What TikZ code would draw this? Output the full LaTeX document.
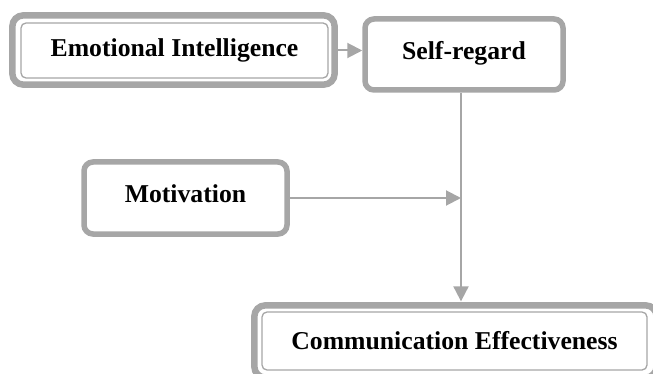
\documentclass[tikz,border=0pt]{standalone}
\usepackage{fontspec}
\setmainfont{Liberation Serif}
\usetikzlibrary{arrows.meta,positioning}

\definecolor{linegray}{HTML}{A6A6A6}

\tikzset{
  box/.style={draw=linegray,line width=5.5pt,rounded corners=9pt,fill=white,
    inner sep=0pt,text depth=9pt,font=\fontsize{25.7}{30}\selectfont\bfseries},
  dblbox/.style={draw=linegray,line width=1.3pt,rounded corners=5pt,fill=white,
    inner sep=0pt,font=\fontsize{25.7}{30}\selectfont\bfseries},
  frame/.style={draw=linegray,line width=6.5pt,rounded corners=11pt},
  link/.style={draw=linegray,line width=2pt,-{Triangle[length=15pt,width=15pt]}}
}

\begin{document}
\begin{tikzpicture}[x=1pt,y=-1pt]
    \useasboundingbox (0,0) rectangle (653,374);
    \node[dblbox,minimum width=307pt,minimum height=55pt] (ei) at (174.5,50.5) {Emotional Intelligence};
    \node[box,minimum width=198pt,minimum height=71pt] (sr) at (464,54.5) {Self-regard};
    \node[box,minimum width=203pt,minimum height=72pt] (mot) at (185.5,198) {Motivation};
    \node[dblbox,minimum width=385pt,minimum height=58pt] (ce) at (454.5,341) {Communication Effectiveness};
    \coordinate (junc) at (461,198);
    % outer frames
    \draw[frame] ([shift={(-8,-7)}]ei.north west) rectangle ([shift={(6,6)}]ei.south east);
    \draw[frame] ([shift={(-7,-6)}]ce.north west) rectangle ([shift={(9,7)}]ce.south east);
    % links
    \path[link,shorten <=9pt]
    (ei.east) -- (ei.east -| sr.west);
    \draw[linegray,line width=2pt] (sr.south -| junc) -- (junc);
    \path[link]
    (mot.east) -- (junc);
    \path[link,shorten >=10pt]
    (junc) -- (junc |- ce.north);
\end{tikzpicture}
\end{document}
